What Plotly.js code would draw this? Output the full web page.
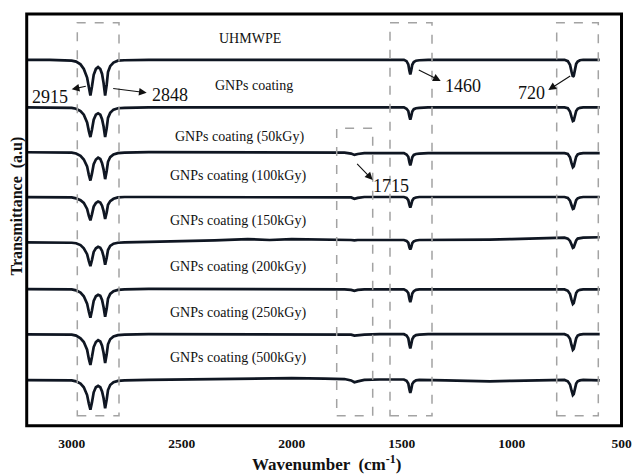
<!DOCTYPE html>
<html>
<head>
<meta charset="utf-8">
<script src="https://cdn.plot.ly/plotly-3.0.1.min.js"></script>
<style>html,body{margin:0;padding:0;background:#fff;}#chart{width:633px;height:475px;}</style>
</head>
<body>
<div id="chart"></div>
<script>
// ---- data ----
const wavenumber = [3260,3100,3000,2980,2960,2945,2930,2922,2915,2908,2900,2890,2880,2870,2862,2855,2848,2841,2835,2825,2810,2790,2760,2650,2500,2350,2200,2100,2000,1850,1760,1730,1715,1700,1670,1600,1490,1478,1470,1465,1461,1457,1452,1445,1435,1420,1380,1300,1200,1100,1000,900,800,760,745,735,728,722,718,713,707,700,690,675,600];

const sampleNames = ["UHMWPE","GNPs coating","GNPs coating (50kGy)","GNPs coating (100kGy)","GNPs coating (150kGy)","GNPs coating (200kGy)","GNPs coating (250kGy)","GNPs coating (500kGy)"];
const traceOffsets = [8.0, 6.96, 5.96, 5.0, 4.06, 2.99, 2.0, 1.0];

const tUHMWPE = [0,0,-0.02,-0.04,-0.10,-0.20,-0.39,-0.62,-0.78,-0.59,-0.33,-0.20,-0.16,-0.20,-0.31,-0.51,-0.78,-0.55,-0.27,-0.14,-0.06,-0.02,-0.01,
 0,0,0,0,0,0,0,0,0,0,0,0,0,
 0,-0.03,-0.10,-0.24,-0.32,-0.24,-0.11,-0.05,-0.02,-0.01,
 0,0,0,0,0,0,0,
 0,-0.03,-0.11,-0.26,-0.37,-0.35,-0.22,-0.09,-0.04,-0.01,0,
 0];
const tGNP = [0,0,-0.01,-0.03,-0.08,-0.16,-0.33,-0.52,-0.65,-0.49,-0.27,-0.16,-0.13,-0.16,-0.26,-0.42,-0.65,-0.46,-0.23,-0.12,-0.05,-0.02,-0.01,
 0,0,0,0,0,0,0,0,0,0,0,0,0,
 0,-0.03,-0.08,-0.20,-0.27,-0.20,-0.09,-0.04,-0.02,-0.01,
 0,0,0,0,0,0,0,
 0,-0.02,-0.09,-0.21,-0.30,-0.29,-0.18,-0.08,-0.03,-0.01,0,
 0];
const tGNP50 = [0.02,0.02,0.01,-0.01,-0.06,-0.14,-0.29,-0.48,-0.60,-0.45,-0.24,-0.14,-0.10,-0.13,-0.22,-0.36,-0.57,-0.39,-0.19,-0.09,-0.03,0,0.01,
 0.02,0.02,0.02,0.02,0.02,0.02,0.02,0.01,-0.01,-0.04,-0.02,0,0,
 0,-0.03,-0.08,-0.20,-0.27,-0.20,-0.09,-0.04,-0.02,-0.01,
 0,0,0,0,0,0,0,
 0,-0.02,-0.09,-0.22,-0.31,-0.29,-0.19,-0.08,-0.03,-0.01,0,
 0];
const tGNP100 = [0,0,-0.01,-0.03,-0.07,-0.13,-0.26,-0.41,-0.51,-0.38,-0.21,-0.13,-0.10,-0.12,-0.19,-0.31,-0.48,-0.34,-0.17,-0.09,-0.04,-0.01,0,
 0,0,0,0,0,0,0,0,-0.01,-0.04,-0.02,0,0,
 0,-0.02,-0.07,-0.17,-0.23,-0.17,-0.08,-0.03,-0.01,0,
 0,0,0,0,0,0,0,
 0,-0.02,-0.08,-0.18,-0.26,-0.25,-0.16,-0.07,-0.03,-0.01,0,
 0];
const tGNP150 = [-0.05,-0.05,-0.06,-0.07,-0.11,-0.18,-0.31,-0.46,-0.57,-0.44,-0.26,-0.18,-0.15,-0.17,-0.24,-0.36,-0.54,-0.39,-0.22,-0.13,-0.08,-0.06,-0.05,
 -0.04,-0.03,-0.01,0.02,0,0.02,0.01,0.01,0,-0.01,0,0,0,
 0,-0.02,-0.06,-0.16,-0.21,-0.16,-0.07,-0.03,-0.01,0,
 0,0.01,0.01,0.01,0.02,0.03,0.04,
 0.05,0.03,-0.02,-0.10,-0.17,-0.16,-0.08,-0.01,0.03,0.04,0.05,
 0.06];
const tGNP200 = [0,0,-0.01,-0.03,-0.08,-0.16,-0.32,-0.50,-0.63,-0.47,-0.26,-0.16,-0.13,-0.15,-0.24,-0.40,-0.61,-0.43,-0.21,-0.11,-0.05,-0.02,-0.01,
 0,0,0,0,0,-0.01,-0.01,-0.01,-0.02,-0.04,-0.02,-0.01,-0.01,
 -0.01,-0.04,-0.09,-0.22,-0.29,-0.22,-0.10,-0.05,-0.02,-0.01,
 -0.01,-0.01,-0.01,-0.01,-0.01,-0.01,-0.01,
 -0.01,-0.04,-0.11,-0.24,-0.33,-0.31,-0.21,-0.09,-0.04,-0.02,-0.01,
 -0.01];
const tGNP250 = [0,0,-0.01,-0.03,-0.09,-0.17,-0.34,-0.54,-0.67,-0.50,-0.28,-0.17,-0.13,-0.16,-0.25,-0.41,-0.63,-0.44,-0.22,-0.11,-0.05,-0.02,-0.01,
 0,0,0,0,0,0,0,0,-0.01,-0.03,-0.02,-0.01,0,
 0,-0.03,-0.09,-0.23,-0.31,-0.23,-0.11,-0.05,-0.02,-0.01,
 0,0,0,0,0,0,0,
 0,-0.03,-0.10,-0.24,-0.34,-0.32,-0.20,-0.09,-0.03,-0.01,0,
 0];
const tGNP500 = [0,0,-0.01,-0.03,-0.08,-0.16,-0.33,-0.52,-0.65,-0.49,-0.27,-0.16,-0.13,-0.16,-0.25,-0.40,-0.62,-0.43,-0.22,-0.11,-0.05,-0.02,-0.01,
 0,0.01,0.02,0.03,0.03,0.04,0.03,0.02,-0.01,-0.05,-0.03,0,0.01,
 0.01,-0.02,-0.08,-0.21,-0.28,-0.21,-0.09,-0.04,-0.01,0,
 0,-0.01,-0.02,-0.03,-0.02,-0.01,0,
 0,-0.03,-0.10,-0.23,-0.33,-0.31,-0.20,-0.08,-0.03,-0.01,0,
 -0.01];

const spectra = [tUHMWPE, tGNP, tGNP50, tGNP100, tGNP150, tGNP200, tGNP250, tGNP500];

const tickValues = [3000, 2500, 2000, 1500, 1000, 500];
const tickLabels = ["3000", "2500", "2000", "1500", "1000", "500"];

const peakLabels = ["2915", "2848", "1460", "720", "1715"];

// ---- layout helpers (pixel -> axis units, for annotations only) ----
const X = px => 3000 - (px - 71.7) / 0.22;
const Y = py => (425.7 - py) / 45.74;

const lineColor = '#0f1622';
const serif = 'Liberation Serif, Times New Roman, serif';

const traces = spectra.map((s, i) => ({
  type: 'scatter', mode: 'lines', name: sampleNames[i],
  x: wavenumber,
  y: s.map(v => v + traceOffsets[i]),
  line: {color: lineColor, width: 2.7},
  hoverinfo: 'skip'
}));

const boxStyle = {color: '#a3a3a3', width: 1.5, dash: 'dash'};
const shapes = [
  {type: 'rect', xref: 'x', yref: 'y', x0: X(77.3), x1: X(119), y0: Y(415.7), y1: Y(22.7), line: boxStyle},
  {type: 'rect', xref: 'x', yref: 'y', x0: X(390), x1: X(432), y0: Y(415.7), y1: Y(22.7), line: boxStyle},
  {type: 'rect', xref: 'x', yref: 'y', x0: X(556.7), x1: X(598.3), y0: Y(415.7), y1: Y(22.7), line: boxStyle},
  {type: 'rect', xref: 'x', yref: 'y', x0: X(336.7), x1: X(372.7), y0: Y(415.7), y1: Y(128.3), line: boxStyle},
  // frame
  {type: 'rect', xref: 'paper', yref: 'paper', x0: 0.0012, x1: 0.9975, y0: 0.0007, y1: 1.0, line: {color: '#000', width: 3}}
];

const labelPos = [[250,38.3],[254,85],[239,137],[238.3,175.7],[238.3,221],[238.3,266.7],[238.3,312.7],[238.3,357.7]];
const annotations = sampleNames.map((n, i) => ({
  text: n, xref: 'x', yref: 'y', x: X(labelPos[i][0]), y: Y(labelPos[i][1]),
  showarrow: false, font: {family: serif, size: 14, color: '#111'}, xanchor: 'center', yanchor: 'middle'
}));

const peakPos = [[50,96.7],[170,95],[463,86],[531,92.7],[391,186]];
peakLabels.forEach((t, i) => annotations.push({
  text: t, xref: 'x', yref: 'y', x: X(peakPos[i][0]), y: Y(peakPos[i][1]),
  showarrow: false, font: {family: serif, size: 18, color: '#111'}, xanchor: 'center', yanchor: 'middle'
}));

const arrows = [
  [[71.7,89.3],[87.3,86]],
  [[146.7,92.7],[111.7,88.3]],
  [[440.7,81],[417.3,69.3]],
  [[548.3,90],[571.7,75]],
  [[372.7,180],[355.7,162.3]]
];
arrows.forEach(a => annotations.push({
  text: '', xref: 'x', yref: 'y', axref: 'x', ayref: 'y',
  x: X(a[0][0]), y: Y(a[0][1]), ax: X(a[1][0]), ay: Y(a[1][1]),
  showarrow: true, arrowhead: 2, arrowsize: 1.4, arrowwidth: 1.1, arrowcolor: '#111', standoff: 0, startstandoff: 0
}));

annotations.push({
  text: 'Wavenumber  (cm<sup>-1</sup>)', xref: 'paper', yref: 'paper',
  x: (326 - 26) / 597, y: (426 - 463) / 412, xanchor: 'center', yanchor: 'middle', showarrow: false,
  font: {family: serif, size: 17, color: '#111', weight: 'bold'}
});
annotations.push({
  text: 'Transmittance  (a.u)', xref: 'paper', yref: 'paper', textangle: -90,
  x: (17 - 26) / 597, y: (426 - 206.5) / 412, xanchor: 'center', yanchor: 'middle', showarrow: false,
  font: {family: serif, size: 16, color: '#111', weight: 'bold'}
});

const layout = {
  width: 633, height: 475,
  margin: {l: 26, r: 10, t: 14, b: 49},
  paper_bgcolor: '#fff', plot_bgcolor: '#fff',
  showlegend: false,
  xaxis: {
    range: [X(26), X(623)], showgrid: false, zeroline: false, showline: false,
    tickmode: 'array', tickvals: tickValues, ticktext: tickLabels, ticks: '',
    ticklabelstandoff: 7,
    tickfont: {family: serif, size: 13.5, color: '#111', weight: 'bold'}
  },
  yaxis: {
    range: [Y(426), Y(14)], showgrid: false, zeroline: false, showline: false,
    showticklabels: false, ticks: ''
  },
  shapes: shapes,
  annotations: annotations
};

Plotly.newPlot('chart', traces, layout, {displayModeBar: false, staticPlot: true});
</script>
</body>
</html>
